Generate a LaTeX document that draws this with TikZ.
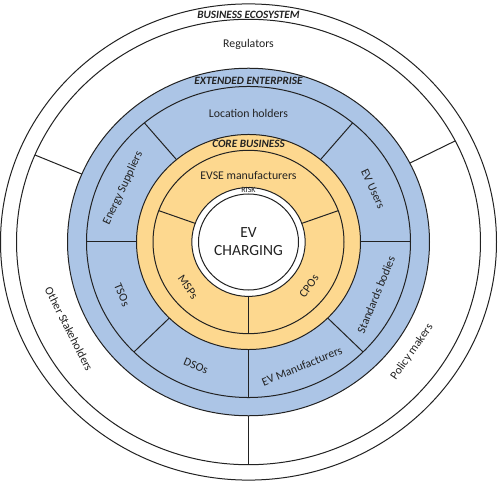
\documentclass[tikz,border=0pt]{standalone}
\usepackage{fontspec}
\setmainfont{Carlito}
\definecolor{ringblue}{HTML}{ACC5E6}
\definecolor{ringgold}{HTML}{FDD88F}
\definecolor{ink}{HTML}{222222}
\begin{document}
\begin{tikzpicture}[x=1pt,y=1pt,
  ring/.style={draw=ink, line width=1pt},
  lbl/.style={text=ink, font=\fontsize{11.8}{13}\selectfont, inner sep=0pt},
  head/.style={text=ink, font=\fontsize{11.2}{13}\selectfont\bfseries\itshape, inner sep=0pt}]
\useasboundingbox (0,0) rectangle (499,483);
\begin{scope}[shift={(248.5,241)}, yscale=0.96]
  \draw[ring, fill=white] (0,0) circle (248pt);
  \draw[ring] (0,0) circle (232pt);
  \draw[ring, fill=ringblue] (0,0) circle (181pt);
  \draw[ring] (0,0) circle (162pt);
  \draw[ring, fill=ringgold] (0,0) circle (112pt);
  \draw[ring] (0,0) circle (95.5pt);
  \draw[ring, fill=white] (0,0) circle (56.7pt);
  \draw[ring] (0,0) circle (50pt);
  \foreach \a in {27,157,270} \draw[ring] (\a:181) -- (\a:232);
  \foreach \a in {0,50,130,180,225,270,315} \draw[ring] (\a:112) -- (\a:162);
  \foreach \a in {20,160,270} \draw[ring] (\a:56.7) -- (\a:95.5);
\end{scope}
\node[head] (eco) at (248.5,468) {BUSINESS ECOSYSTEM};
\node[lbl] (reg) at (248.5,439) {Regulators};
\node[head] (ext) at (248.5,402) {EXTENDED ENTERPRISE};
\node[lbl] (loc) at (248.5,370) {Location holders};
\node[head] (core) at (248.5,339) {CORE BUSINESS};
\node[lbl] (evse) at (248.5,308) {EVSE manufacturers};
\node[text=ink, inner sep=0pt, font=\fontsize{8}{8}\selectfont] (risk) at (248.5,293.5) {RISK};
\node[text=ink, inner sep=0pt, align=center, font=\fontsize{15.5}{17.5}\selectfont] (evc) at (248.5,241.5) {EV\\CHARGING};
\node[lbl, rotate=-55] (msp) at (188,196) {MSPs};
\node[lbl, rotate=55] (cpo) at (309,197) {CPOs};
\node[lbl, rotate=65] (ensup) at (123,295) {Energy Suppliers};
\node[lbl, rotate=-65] (evu) at (373,294) {EV Users};
\node[lbl, rotate=-67.5] (tso) at (122,188) {TSOs};
\node[lbl, rotate=67.5] (std) at (376,188) {Standards bodies};
\node[lbl, rotate=-22.5] (dso) at (196,117) {DSOs};
\node[lbl, rotate=22.5] (evm) at (302,117) {EV Manufacturers};
\node[lbl, rotate=-63] (oth) at (69,154) {Other Stakeholders};
\node[lbl, rotate=55] (pol) at (412,131) {Policy makers};
\end{tikzpicture}
\end{document}
